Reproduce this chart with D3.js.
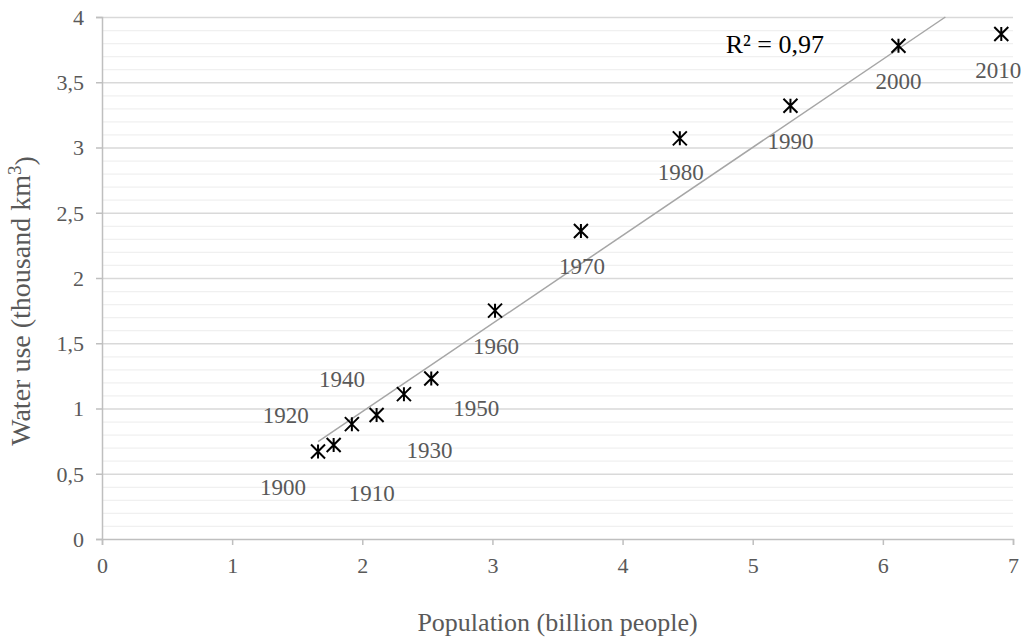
<!DOCTYPE html>
<html>
<head>
<meta charset="utf-8">
<script src="https://cdn.jsdelivr.net/npm/d3@7"></script>
<style>
  body { margin: 0; background: #fff; }
  svg text { font-family: "Liberation Serif", "Times New Roman", serif; }
</style>
</head>
<body>
<svg width="1029" height="639"></svg>
<script>
// data
var years = ["1900", "1910", "1920", "1930", "1940", "1950", "1960", "1970", "1980", "1990", "2000", "2010"];
var population = [1.66, 1.78, 1.92, 2.11, 2.32, 2.53, 3.02, 3.68, 4.44, 5.29, 6.12, 6.91];
var waterUse = [0.67, 0.72, 0.88, 0.95, 1.11, 1.23, 1.75, 2.36, 3.07, 3.32, 3.78, 3.87];
var xTicks = [0, 1, 2, 3, 4, 5, 6, 7];
var yTicks = [0, 0.5, 1, 1.5, 2, 2.5, 3, 3.5, 4];
var r2Label = "R² = 0,97";

// where each data label sits relative to its marker
var labelOffsets = [[-35, 35], [38, 48], [-66, -9], [53, 35], [-62, -15], [45, 29],
                    [1, 35], [1, 35], [1, 34], [0, 35], [0, 35], [-3, 36]];

var svg = d3.select("svg"),
    margin = {top: 17, right: 16, bottom: 100, left: 102},
    width = 1029 - margin.left - margin.right,
    height = 639 - margin.top - margin.bottom;

var x = d3.scaleLinear().domain([0, 7]).range([0, width]);
var y = d3.scaleLinear().domain([0, 4]).range([height, 0]);

var g = svg.append("g")
    .attr("transform", "translate(" + margin.left + "," + margin.top + ")");

// minor grid
g.append("g").selectAll("line")
    .data(d3.range(1, 40).filter(function(i) { return i % 5 !== 0; }).map(function(i) { return i / 10; }))
    .enter().append("line")
    .attr("x1", 0).attr("x2", width)
    .attr("y1", function(d) { return y(d) + 0.5; })
    .attr("y2", function(d) { return y(d) + 0.5; })
    .attr("stroke", "#f0f0f0").attr("stroke-width", 1.3);

// major grid
g.append("g").selectAll("line")
    .data(yTicks.slice(1))
    .enter().append("line")
    .attr("x1", 0).attr("x2", width)
    .attr("y1", function(d) { return y(d) + 0.5; })
    .attr("y2", function(d) { return y(d) + 0.5; })
    .attr("stroke", "#d9d9d9").attr("stroke-width", 1.3);

var yAxis = g.append("g")
    .call(d3.axisLeft(y).tickValues(yTicks).tickSize(6).tickPadding(12)
        .tickFormat(function(d) { return String(d).replace(".", ","); }));
var xAxis = g.append("g")
    .attr("transform", "translate(0," + height + ")")
    .call(d3.axisBottom(x).tickValues(xTicks).tickSize(6).tickPadding(11)
        .tickFormat(d3.format("d")));

[xAxis, yAxis].forEach(function(ax) {
    ax.attr("font-family", "Liberation Serif, serif").attr("font-size", 22);
    ax.select(".domain").attr("stroke", "#bfbfbf").attr("stroke-width", 1.5);
    ax.selectAll(".tick line").attr("stroke", "#bfbfbf").attr("stroke-width", 1.5);
    ax.selectAll("text").attr("fill", "#595959");
});
yAxis.selectAll("text").attr("dy", "0.33em");
xAxis.selectAll("text").attr("dy", "0.75em");

// linear trendline
var pts = population.map(function(p, i) { return [p, waterUse[i]]; });
var mx = d3.mean(population), my = d3.mean(waterUse);
var slope = d3.sum(pts, function(d) { return (d[0] - mx) * (d[1] - my); }) /
            d3.sum(pts, function(d) { return (d[0] - mx) * (d[0] - mx); });
var icpt = my - slope * mx;
var x0 = d3.min(population), x1 = d3.max(population);
if (icpt + slope * x1 > 4) x1 = (4 - icpt) / slope;

g.append("line")
    .attr("x1", x(x0)).attr("y1", y(icpt + slope * x0))
    .attr("x2", x(x1)).attr("y2", y(icpt + slope * x1))
    .attr("stroke", "#a6a6a6").attr("stroke-width", 1.5);

// star markers
var s = 7;
var star = "M" + (-s) + "," + (-s) + "L" + s + "," + s +
           "M" + (-s) + "," + s + "L" + s + "," + (-s) +
           "M0," + (-s) + "L0," + s;

g.append("g").selectAll("path")
    .data(pts)
    .enter().append("path")
    .attr("d", star)
    .attr("transform", function(d) { return "translate(" + x(d[0]) + "," + y(d[1]) + ")"; })
    .attr("fill", "none").attr("stroke", "#000").attr("stroke-width", 2);

g.append("g").selectAll("text")
    .data(pts)
    .enter().append("text")
    .attr("x", function(d, i) { return x(d[0]) + labelOffsets[i][0]; })
    .attr("y", function(d, i) { return y(d[1]) + labelOffsets[i][1]; })
    .attr("dy", "0.35em")
    .attr("text-anchor", "middle")
    .attr("fill", "#595959")
    .style("font-size", "23px")
    .text(function(d, i) { return years[i]; });

g.append("text")
    .attr("x", x(5.17)).attr("y", 27)
    .attr("dy", "0.35em")
    .attr("text-anchor", "middle")
    .attr("fill", "#000")
    .style("font-size", "26px")
    .text(r2Label);

// axis titles
svg.append("text")
    .attr("x", margin.left + width / 2).attr("y", 623)
    .attr("dy", "0.3em")
    .attr("text-anchor", "middle")
    .attr("fill", "#595959")
    .style("font-size", "26px")
    .text("Population (billion people)");

var yt = svg.append("text")
    .attr("transform", "translate(20," + (margin.top + height / 2 + 23) + ") rotate(-90)")
    .attr("dy", "0.35em")
    .attr("text-anchor", "middle")
    .attr("fill", "#595959")
    .style("font-size", "28px");
yt.append("tspan").text("Water use (thousand km");
yt.append("tspan").attr("dy", "-0.45em").style("font-size", "19px").text("3");
yt.append("tspan").attr("dy", "0.45em").text(")");
</script>
</body>
</html>
